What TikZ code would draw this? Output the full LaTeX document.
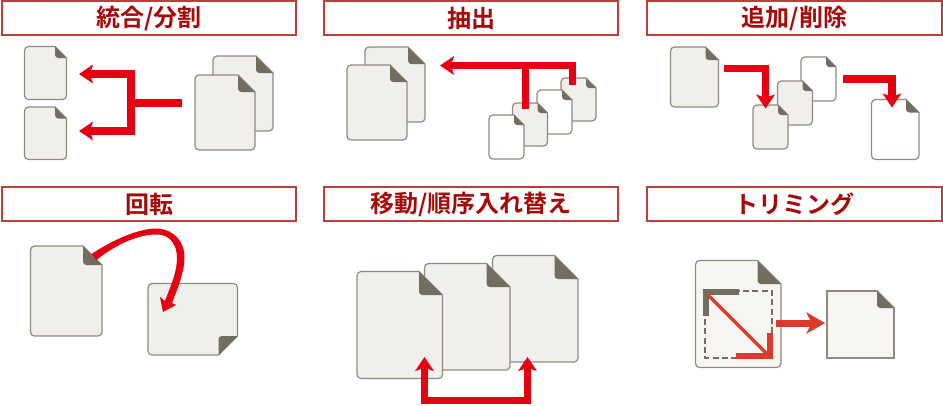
\documentclass[tikz,border=0pt]{standalone}
\usepackage{fontspec}
\setmainfont{Noto Sans CJK JP}[BoldFont={Noto Sans CJK JP Bold}]
\usetikzlibrary{arrows.meta}
\definecolor{titlered}{HTML}{A60A08}
\definecolor{titleline}{HTML}{B9403A}
\definecolor{arrowred}{HTML}{E60012}
\definecolor{trimred}{HTML}{DD3A2E}
\definecolor{paper}{HTML}{F0EFEB}
\definecolor{paperlight}{HTML}{F6F5F1}
\definecolor{foldc}{HTML}{736D60}
\definecolor{edgec}{HTML}{8F8A7E}
\tikzset{
  titlebox/.style={draw=titleline,line width=1.5pt,fill=white,minimum width=220.8pt,minimum height=25.5pt,inner sep=0pt,outer sep=0pt,
    font=\fontsize{18pt}{20pt}\selectfont\bfseries,text=titlered,anchor=north west},
  redline/.style={draw=arrowred,line width=5.4pt,line join=miter},
  redarrow/.style={redline,-{Stealth[length=10.5pt,width=14pt,inset=2.5pt]}},
  trimline/.style={draw=trimred,line join=miter},
  greycorner/.style={draw=foldc,line width=4.5pt,line join=miter},
}
% x y w h fold fill
\newcommand{\docsheet}[6]{%
  \path[draw=edgec,line width=0.9pt,fill=#6]
    ({#1+#3-#5},{#2}) [rounded corners=3pt] -- ({#1},{#2}) -- ({#1},{#2+#4}) -- ({#1+#3},{#2+#4}) [sharp corners] -- ({#1+#3},{#2+#5}) -- cycle;
  \path[fill=foldc]
    ({#1+#3-#5},{#2}) [rounded corners=2.5pt] -- ({#1+#3-#5},{#2+#5}) [sharp corners] -- ({#1+#3},{#2+#5}) -- cycle;
}
\begin{document}
\begin{tikzpicture}[x=0.75pt,y=-0.75pt]
\useasboundingbox (0,0) rectangle (943,405);
% titles
\node[titlebox] (t1) at (1.8,1) {統合/分割};
\node[titlebox] (t2) at (324,1) {抽出};
\node[titlebox] (t3) at (647.3,1) {追加/削除};
\node[titlebox] (t4) at (1.8,187) {回転};
\node[titlebox] (t5) at (324,187) {移動/順序入れ替え};
\node[titlebox] (t6) at (647.3,187) {トリミング};
% panel 1
\docsheet{24.5}{46.5}{42}{53}{11.5}{paper}
\docsheet{24.5}{107}{42}{52.5}{11.5}{paper}
\docsheet{213}{56}{60}{75}{17}{paper}
\docsheet{195}{75}{60}{75}{17}{paper}
\coordinate (a1s) at (182,103);
\coordinate (a1j) at (131,103);
\coordinate (a1u) at (131,74);
\coordinate (a1d) at (131,131);
\coordinate (a1ue) at (79,74);
\coordinate (a1de) at (79,131);
\draw[redline] (a1s) -- (a1j);
\draw[redarrow] (a1d) -- (a1u) -- (a1ue);
\draw[redarrow] (a1u) -- (a1d) -- (a1de);
% panel 2
\docsheet{365}{47}{60}{75}{17}{paper}
\docsheet{347}{65}{60}{75}{17}{paper}
\docsheet{561}{78}{35}{43}{10}{paper}
\docsheet{537}{90}{35}{44}{10}{white}
\docsheet{512.5}{103}{35}{43}{10}{paper}
\docsheet{489}{115}{35}{44}{10}{white}
\coordinate (a2r) at (572.5,85);
\coordinate (a2rt) at (572.5,65.5);
\coordinate (a2m) at (525.5,109);
\coordinate (a2mt) at (525.5,65.5);
\coordinate (a2e) at (440,65.5);
\draw[redarrow] (a2r) -- (a2rt) -- (a2e);
\draw[redline] (a2m) -- (a2mt);
% panel 3
\docsheet{670.5}{47}{48}{60}{13}{paper}
\docsheet{801}{57}{35}{44}{10}{white}
\docsheet{777.5}{81}{35}{44}{10}{paper}
\docsheet{753}{105}{35}{44}{10}{paper}
\docsheet{871.5}{99.5}{47.5}{60}{13}{white}
\coordinate (a3s) at (724,68.5);
\coordinate (a3c) at (765.5,68.5);
\coordinate (a3e) at (765.5,108.5);
\draw[redarrow] (a3s) -- (a3c) -- (a3e);
\coordinate (b3s) at (843,79);
\coordinate (b3c) at (892,79);
\coordinate (b3e) at (892,107.5);
\draw[redarrow] (b3s) -- (b3c) -- (b3e);
% panel 4
\docsheet{30.5}{246}{71.5}{90}{19}{paper}
\path[draw=edgec,line width=0.9pt,fill=paper]
  (237.5,336) [rounded corners=3pt] -- (237.5,283.5) -- (148,283.5) -- (148,355) [sharp corners] -- (218.5,355) -- cycle;
\path[fill=foldc] (237.5,336) [rounded corners=2.5pt] -- (218.5,336) [sharp corners] -- (218.5,355) -- cycle;
\fill[arrowred] (91.5,254) .. controls (120,235) and (145,228) .. (157,228.5)
   .. controls (175,229.5) and (185,243) .. (184.5,258)
   .. controls (184,275) and (176,292) .. (172,303)
   -- (176,305) -- (163,312) -- (160,297) -- (165,301)
   .. controls (171,285) and (177,272) .. (177,258)
   .. controls (177,245) and (170,234.5) .. (157,234.5)
   .. controls (143,234) and (120,241) .. (96.5,260) -- cycle;
% panel 5
\docsheet{492.5}{255.5}{85.5}{106.5}{23.5}{paper}
\docsheet{424.5}{263.5}{85.5}{106.5}{23.5}{paper}
\docsheet{357}{271.5}{85.5}{107}{23.5}{paper}
\coordinate (a5l) at (424.5,357);
\coordinate (a5lb) at (424.5,400.5);
\coordinate (a5rb) at (527.5,400.5);
\coordinate (a5r) at (527.5,357);
\draw[redarrow] (a5rb) -- (a5lb) -- (a5l);
\draw[redarrow] (a5lb) -- (a5rb) -- (a5r);
% panel 6
\docsheet{695.5}{260.5}{85.5}{107}{23.5}{paperlight}
\path[draw=foldc,line width=1.1pt,dash pattern=on 4.5pt off 2.5pt] (705,291) rectangle (772,358);
\coordinate (g1) at (739,292);
\coordinate (g2) at (706,292);
\coordinate (g3) at (706,316);
\draw[greycorner] (g1) -- (g2) -- (g3);
\coordinate (r1) at (770,333);
\coordinate (r2) at (770,356);
\coordinate (r3) at (736,356);
\draw[trimline,line width=4.5pt] (r1) -- (r2) -- (r3);
\coordinate (d1) at (708,295);
\coordinate (d2) at (769,356);
\draw[trimline,line width=2.6pt] (d1) -- (d2);
\path[draw=edgec,line width=1.3pt,fill=paperlight]
  (877,291) -- (827,291) -- (827,358) -- (894,358) -- (894,308) -- cycle;
\path[fill=foldc] (877,291) [rounded corners=2.5pt] -- (877,308) [sharp corners] -- (894,308) -- cycle;
\coordinate (a6s) at (776,323);
\coordinate (a6e) at (825,323);
\draw[trimline,line width=5.25pt,-{Stealth[length=14pt,width=16pt,inset=4pt]}] (a6s) -- (a6e);
\end{tikzpicture}
\end{document}
